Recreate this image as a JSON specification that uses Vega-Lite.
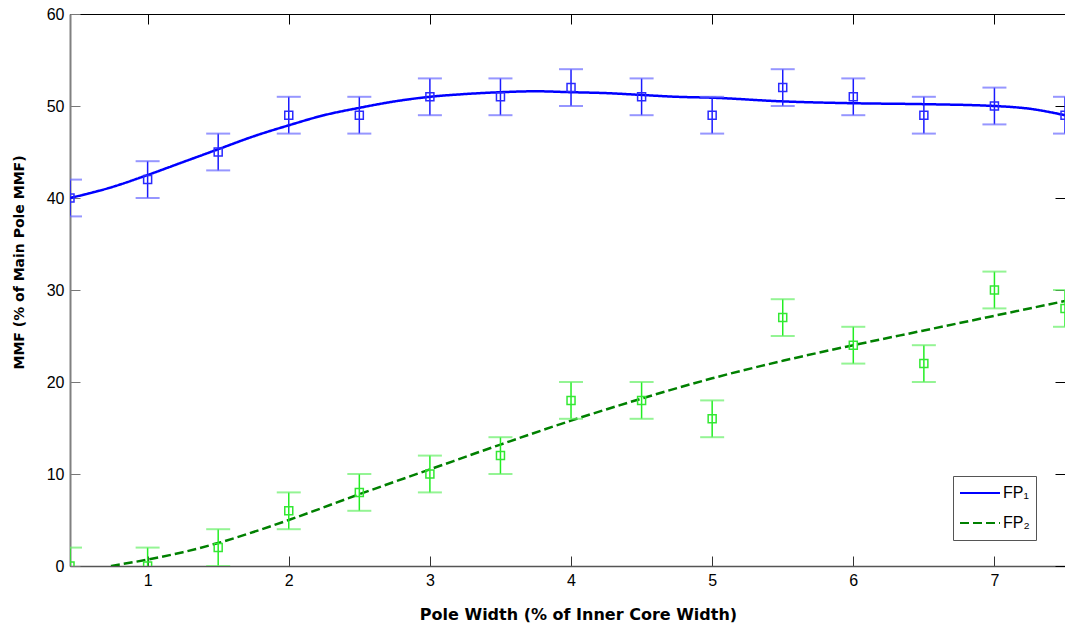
{
  "$schema": "https://vega.github.io/schema/vega-lite/v6.json",
  "width": 995,
  "height": 552,
  "autosize": {"type": "none"},
  "padding": {"left": 70, "top": 14, "right": 0, "bottom": 62},
  "background": "white",
  "config": {
    "view": {"stroke": "#000000", "strokeWidth": 1},
    "axis": {"grid": false, "labelFont": "Liberation Sans", "labelFontSize": 16, "labelColor": "#000000", "titleFont": "DejaVu Sans", "titleFontWeight": "bold", "titleColor": "#000000"}
  },
  "datasets": {
    "pts": [
      {"x": 0.45, "y": 40, "lo": 38, "hi": 42, "series": "FP₁"},
      {"x": 1, "y": 42, "lo": 40, "hi": 44, "series": "FP₁"},
      {"x": 1.5, "y": 45, "lo": 43, "hi": 47, "series": "FP₁"},
      {"x": 2, "y": 49, "lo": 47, "hi": 51, "series": "FP₁"},
      {"x": 2.5, "y": 49, "lo": 47, "hi": 51, "series": "FP₁"},
      {"x": 3, "y": 51, "lo": 49, "hi": 53, "series": "FP₁"},
      {"x": 3.5, "y": 51, "lo": 49, "hi": 53, "series": "FP₁"},
      {"x": 4, "y": 52, "lo": 50, "hi": 54, "series": "FP₁"},
      {"x": 4.5, "y": 51, "lo": 49, "hi": 53, "series": "FP₁"},
      {"x": 5, "y": 49, "lo": 47, "hi": 51, "series": "FP₁"},
      {"x": 5.5, "y": 52, "lo": 50, "hi": 54, "series": "FP₁"},
      {"x": 6, "y": 51, "lo": 49, "hi": 53, "series": "FP₁"},
      {"x": 6.5, "y": 49, "lo": 47, "hi": 51, "series": "FP₁"},
      {"x": 7, "y": 50, "lo": 48, "hi": 52, "series": "FP₁"},
      {"x": 7.5, "y": 49, "lo": 47, "hi": 51, "series": "FP₁"},
      {"x": 0.45, "y": 0, "lo": -2, "hi": 2, "series": "FP₂"},
      {"x": 1, "y": 0, "lo": -2, "hi": 2, "series": "FP₂"},
      {"x": 1.5, "y": 2, "lo": 0, "hi": 4, "series": "FP₂"},
      {"x": 2, "y": 6, "lo": 4, "hi": 8, "series": "FP₂"},
      {"x": 2.5, "y": 8, "lo": 6, "hi": 10, "series": "FP₂"},
      {"x": 3, "y": 10, "lo": 8, "hi": 12, "series": "FP₂"},
      {"x": 3.5, "y": 12, "lo": 10, "hi": 14, "series": "FP₂"},
      {"x": 4, "y": 18, "lo": 16, "hi": 20, "series": "FP₂"},
      {"x": 4.5, "y": 18, "lo": 16, "hi": 20, "series": "FP₂"},
      {"x": 5, "y": 16, "lo": 14, "hi": 18, "series": "FP₂"},
      {"x": 5.5, "y": 27, "lo": 25, "hi": 29, "series": "FP₂"},
      {"x": 6, "y": 24, "lo": 22, "hi": 26, "series": "FP₂"},
      {"x": 6.5, "y": 22, "lo": 20, "hi": 24, "series": "FP₂"},
      {"x": 7, "y": 30, "lo": 28, "hi": 32, "series": "FP₂"},
      {"x": 7.5, "y": 28, "lo": 26, "hi": 30, "series": "FP₂"}
    ],
    "fit": [
      {"x": 0.45, "y": 40.0, "series": "FP₁"},
      {"x": 0.75, "y": 41.2, "series": "FP₁"},
      {"x": 1, "y": 42.5, "series": "FP₁"},
      {"x": 1.25, "y": 43.9, "series": "FP₁"},
      {"x": 1.5, "y": 45.3, "series": "FP₁"},
      {"x": 1.75, "y": 46.7, "series": "FP₁"},
      {"x": 2, "y": 47.9, "series": "FP₁"},
      {"x": 2.25, "y": 49.0, "series": "FP₁"},
      {"x": 2.5, "y": 49.8, "series": "FP₁"},
      {"x": 2.75, "y": 50.5, "series": "FP₁"},
      {"x": 3, "y": 51.0, "series": "FP₁"},
      {"x": 3.25, "y": 51.3, "series": "FP₁"},
      {"x": 3.5, "y": 51.5, "series": "FP₁"},
      {"x": 3.75, "y": 51.6, "series": "FP₁"},
      {"x": 4, "y": 51.5, "series": "FP₁"},
      {"x": 4.25, "y": 51.4, "series": "FP₁"},
      {"x": 4.5, "y": 51.2, "series": "FP₁"},
      {"x": 4.75, "y": 51.0, "series": "FP₁"},
      {"x": 5, "y": 50.9, "series": "FP₁"},
      {"x": 5.5, "y": 50.5, "series": "FP₁"},
      {"x": 6, "y": 50.3, "series": "FP₁"},
      {"x": 6.5, "y": 50.2, "series": "FP₁"},
      {"x": 7, "y": 50.0, "series": "FP₁"},
      {"x": 7.25, "y": 49.7, "series": "FP₁"},
      {"x": 7.5, "y": 49.0, "series": "FP₁"},
      {"x": 0.74, "y": 0, "series": "FP₂"},
      {"x": 1, "y": 0.7, "series": "FP₂"},
      {"x": 1.25, "y": 1.5, "series": "FP₂"},
      {"x": 1.5, "y": 2.5, "series": "FP₂"},
      {"x": 1.75, "y": 3.7, "series": "FP₂"},
      {"x": 2, "y": 5.0, "series": "FP₂"},
      {"x": 2.5, "y": 7.8, "series": "FP₂"},
      {"x": 3, "y": 10.5, "series": "FP₂"},
      {"x": 3.5, "y": 13.2, "series": "FP₂"},
      {"x": 4, "y": 15.8, "series": "FP₂"},
      {"x": 4.5, "y": 18.2, "series": "FP₂"},
      {"x": 5, "y": 20.4, "series": "FP₂"},
      {"x": 5.5, "y": 22.3, "series": "FP₂"},
      {"x": 6, "y": 24.0, "series": "FP₂"},
      {"x": 6.5, "y": 25.6, "series": "FP₂"},
      {"x": 7, "y": 27.2, "series": "FP₂"},
      {"x": 7.5, "y": 28.8, "series": "FP₂"}
    ]
  },
  "resolve": {"axis": {"x": "independent", "y": "independent"}},
  "layer": [
    {
      "data": {"name": "fit"},
      "mark": {"type": "line", "strokeWidth": 2.5, "clip": true, "interpolate": "monotone"},
      "encoding": {
        "x": {"field": "x", "type": "quantitative", "scale": {"domain": [0.45, 7.5], "nice": false, "zero": false},
          "axis": {"orient": "bottom", "values": [1, 2, 3, 4, 5, 6, 7], "title": "Pole Width (% of Inner Core Width)", "titleFontSize": 16, "titleX": 508, "tickSize": -10, "tickColor": "#333333", "domainColor": "#555555", "domainWidth": 1.5, "labelPadding": 16, "titlePadding": 18}},
        "y": {"field": "y", "type": "quantitative", "scale": {"domain": [0, 60], "nice": false, "zero": false},
          "axis": {"orient": "left", "values": [0, 10, 20, 30, 40, 50, 60], "title": "MMF (% of Main Pole MMF)", "titleFontSize": 14, "titleY": 248, "tickSize": -10, "tickColor": "#777777", "domainColor": "#808080", "domainWidth": 2, "labelPadding": 16, "titlePadding": 20}},
        "color": {"field": "series", "type": "nominal", "scale": {"domain": ["FP₁", "FP₂"], "range": ["#0000ff", "#008000"]},
          "legend": {"title": null, "orient": "none", "legendX": 883, "legendY": 462, "symbolType": "stroke", "symbolSize": 1600, "symbolStrokeWidth": 2, "labelFont": "Liberation Sans", "labelFontSize": 16, "labelColor": "#000000", "strokeColor": "#555555", "fillColor": "#ffffff", "padding": 6, "clipHeight": 22, "rowPadding": 8, "labelOffset": 2}},
        "strokeDash": {"field": "series", "type": "nominal", "scale": {"domain": ["FP₁", "FP₂"], "range": [[1, 0], [9, 4]]}}
      }
    },
    {
      "data": {"name": "pts"},
      "transform": [{"filter": "datum.series === 'FP₁'"}],
      "mark": {"type": "rule", "color": "#1a1aff", "strokeWidth": 1.5, "clip": true},
      "encoding": {
        "x": {"field": "x", "type": "quantitative", "axis": null},
        "y": {"field": "lo", "type": "quantitative", "axis": null},
        "y2": {"field": "hi"}
      }
    },
    {
      "data": {"name": "pts"},
      "transform": [{"filter": "datum.series === 'FP₁'"}],
      "mark": {"type": "tick", "orient": "horizontal", "color": "#6a6aff", "size": 24, "thickness": 2, "clip": true},
      "encoding": {
        "x": {"field": "x", "type": "quantitative", "axis": null},
        "y": {"field": "lo", "type": "quantitative", "axis": null}
      }
    },
    {
      "data": {"name": "pts"},
      "transform": [{"filter": "datum.series === 'FP₁'"}],
      "mark": {"type": "tick", "orient": "horizontal", "color": "#6a6aff", "size": 24, "thickness": 2, "clip": true},
      "encoding": {
        "x": {"field": "x", "type": "quantitative", "axis": null},
        "y": {"field": "hi", "type": "quantitative", "axis": null}
      }
    },
    {
      "data": {"name": "pts"},
      "transform": [{"filter": "datum.series === 'FP₁'"}],
      "mark": {"type": "square", "filled": false, "color": "#2a2aff", "size": 64, "strokeWidth": 1.5, "clip": true, "opacity": 1},
      "encoding": {
        "x": {"field": "x", "type": "quantitative", "axis": null},
        "y": {"field": "y", "type": "quantitative", "axis": null}
      }
    },
    {
      "data": {"name": "pts"},
      "transform": [{"filter": "datum.series === 'FP₂'"}],
      "mark": {"type": "rule", "color": "#22ee22", "strokeWidth": 1.5, "clip": true},
      "encoding": {
        "x": {"field": "x", "type": "quantitative", "axis": null},
        "y": {"field": "lo", "type": "quantitative", "axis": null},
        "y2": {"field": "hi"}
      }
    },
    {
      "data": {"name": "pts"},
      "transform": [{"filter": "datum.series === 'FP₂'"}],
      "mark": {"type": "tick", "orient": "horizontal", "color": "#66f066", "size": 24, "thickness": 2, "clip": true},
      "encoding": {
        "x": {"field": "x", "type": "quantitative", "axis": null},
        "y": {"field": "lo", "type": "quantitative", "axis": null}
      }
    },
    {
      "data": {"name": "pts"},
      "transform": [{"filter": "datum.series === 'FP₂'"}],
      "mark": {"type": "tick", "orient": "horizontal", "color": "#66f066", "size": 24, "thickness": 2, "clip": true},
      "encoding": {
        "x": {"field": "x", "type": "quantitative", "axis": null},
        "y": {"field": "hi", "type": "quantitative", "axis": null}
      }
    },
    {
      "data": {"name": "pts"},
      "transform": [{"filter": "datum.series === 'FP₂'"}],
      "mark": {"type": "square", "filled": false, "color": "#33e833", "size": 64, "strokeWidth": 1.5, "clip": true, "opacity": 1},
      "encoding": {
        "x": {"field": "x", "type": "quantitative", "axis": null},
        "y": {"field": "y", "type": "quantitative", "axis": null}
      }
    },
    {
      "data": {"name": "pts"},
      "mark": {"type": "point", "opacity": 0},
      "encoding": {
        "x": {"field": "x", "type": "quantitative",
          "axis": {"orient": "top", "values": [1, 2, 3, 4, 5, 6, 7], "labels": false, "title": null, "tickSize": -10, "tickColor": "#000000", "domain": false}},
        "y": {"field": "y", "type": "quantitative",
          "axis": {"orient": "right", "values": [0, 10, 20, 30, 40, 50, 60], "labels": false, "title": null, "tickSize": -10, "tickColor": "#000000", "domain": false}}
      }
    }
  ]
}
